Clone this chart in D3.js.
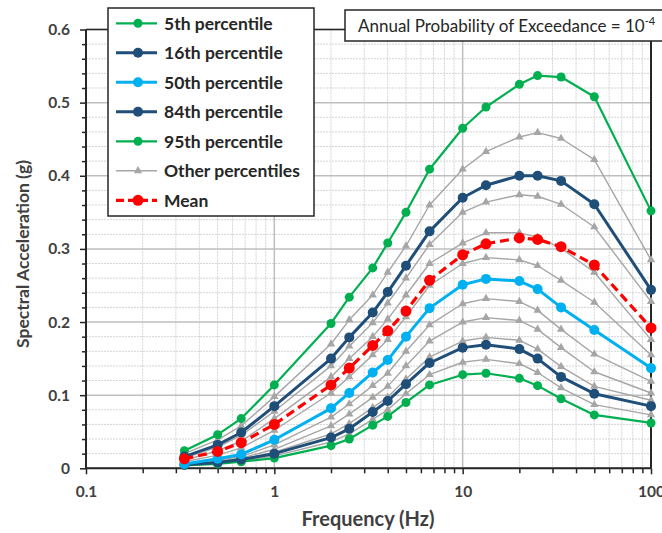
<!DOCTYPE html>
<html>
<head>
<meta charset="utf-8">
<script src="https://d3js.org/d3.v7.min.js"></script>
<style>
  body { margin: 0; background: #fff; }
  svg { display: block; font-family: Lato, "Open Sans", sans-serif; }
</style>
</head>
<body>
<div id="chart"></div>
<script>
  // frequencies (Hz) and spectral acceleration (g) per series
  var freqs = [0.333, 0.5, 0.667, 1, 2, 2.5, 3.33, 4, 5, 6.67, 10, 13.3, 20, 25, 33.3, 50, 100];

  var p95 = [0.024, 0.046, 0.068, 0.114, 0.198, 0.234, 0.274, 0.308, 0.350, 0.409, 0.465, 0.494, 0.525, 0.537, 0.535, 0.508, 0.352];
  var p90 = [0.020, 0.039, 0.058, 0.098, 0.170, 0.203, 0.237, 0.268, 0.304, 0.360, 0.409, 0.433, 0.453, 0.459, 0.451, 0.422, 0.285];
  var p84 = [0.016, 0.032, 0.049, 0.085, 0.150, 0.179, 0.213, 0.241, 0.277, 0.324, 0.370, 0.387, 0.400, 0.400, 0.393, 0.361, 0.244];
  var p80 = [0.014, 0.029, 0.045, 0.078, 0.140, 0.167, 0.199, 0.226, 0.260, 0.306, 0.350, 0.364, 0.374, 0.372, 0.361, 0.330, 0.228];
  var p70 = [0.011, 0.024, 0.037, 0.068, 0.125, 0.150, 0.180, 0.204, 0.237, 0.280, 0.308, 0.322, 0.322, 0.316, 0.301, 0.268, 0.176];
  var p60 = [0.009, 0.018, 0.028, 0.052, 0.103, 0.125, 0.155, 0.176, 0.207, 0.250, 0.280, 0.288, 0.285, 0.277, 0.257, 0.227, 0.155];
  var p50 = [0.006, 0.013, 0.019, 0.039, 0.082, 0.103, 0.131, 0.148, 0.180, 0.219, 0.251, 0.259, 0.256, 0.245, 0.220, 0.189, 0.137];
  var p40 = [0.005, 0.011, 0.016, 0.032, 0.070, 0.088, 0.113, 0.130, 0.160, 0.196, 0.225, 0.232, 0.228, 0.216, 0.190, 0.156, 0.119];
  var p30 = [0.004, 0.009, 0.014, 0.026, 0.058, 0.074, 0.097, 0.112, 0.140, 0.174, 0.200, 0.206, 0.202, 0.190, 0.165, 0.132, 0.103];
  var p20 = [0.004, 0.008, 0.012, 0.022, 0.047, 0.061, 0.083, 0.097, 0.122, 0.152, 0.174, 0.179, 0.175, 0.163, 0.139, 0.112, 0.093];
  var p16 = [0.005, 0.008, 0.012, 0.020, 0.042, 0.054, 0.077, 0.092, 0.115, 0.144, 0.165, 0.169, 0.163, 0.150, 0.125, 0.102, 0.085];
  var p10 = [0.004, 0.007, 0.010, 0.017, 0.036, 0.047, 0.067, 0.080, 0.102, 0.128, 0.145, 0.149, 0.143, 0.131, 0.110, 0.087, 0.073];
  var p5  = [0.004, 0.006, 0.009, 0.014, 0.031, 0.040, 0.059, 0.071, 0.090, 0.114, 0.128, 0.130, 0.123, 0.113, 0.095, 0.073, 0.062];
  var mean = [0.013, 0.023, 0.035, 0.060, 0.114, 0.137, 0.168, 0.188, 0.215, 0.257, 0.292, 0.307, 0.315, 0.313, 0.303, 0.278, 0.192];

  var yTicks = [0, 0.1, 0.2, 0.3, 0.4, 0.5, 0.6];
  var xTicks = [0.1, 1, 10, 100];
  var legendLabels = ["5th percentile", "16th percentile", "50th percentile", "84th percentile",
                      "95th percentile", "Other percentiles", "Mean"];

  var green = "#00B050", navy = "#1F4E79", cyan = "#00B0F0", gray = "#A6A6A6", red = "#FF0000";

  // drawing order: grays behind, colored on top, mean last
  var series = [
    {v: p90, kind: "gray"}, {v: p80, kind: "gray"}, {v: p70, kind: "gray"}, {v: p60, kind: "gray"},
    {v: p40, kind: "gray"}, {v: p30, kind: "gray"}, {v: p20, kind: "gray"}, {v: p10, kind: "gray"},
    {v: p5, kind: "green"}, {v: p95, kind: "green"},
    {v: p16, kind: "navy"}, {v: p84, kind: "navy"},
    {v: p50, kind: "cyan"},
    {v: mean, kind: "mean"}
  ];
  var styles = {
    gray:  {color: gray,  width: 1.4, r: 0,   dash: null},
    green: {color: green, width: 2.2, r: 4.5, dash: null},
    navy:  {color: navy,  width: 3,   r: 5,   dash: null},
    cyan:  {color: cyan,  width: 3,   r: 5,   dash: null},
    mean:  {color: red,   width: 3.2, r: 5.5, dash: "9,5"}
  };
  var legendKinds = ["green", "navy", "cyan", "navy", "green", "gray", "mean"];

  var W = 662, H = 533;
  var margin = {top: 29.5, right: 11, bottom: 64.7, left: 86},
      width = W - margin.left - margin.right,
      height = H - margin.top - margin.bottom;

  var svg = d3.select("#chart").append("svg")
      .attr("width", W).attr("height", H);
  var g = svg.append("g")
      .attr("transform", "translate(" + margin.left + "," + margin.top + ")");

  var x = d3.scaleLog().domain([0.1, 100]).range([0, width]);
  var y = d3.scaleLinear().domain([0, 0.6]).range([height, 0]);

  // minor positions
  var xMinor = [];
  [0.1, 1, 10].forEach(function(dec) {
    for (var k = 2; k <= 9; k++) xMinor.push(dec * k);
  });
  var yMinor = d3.range(0, 0.6001, 0.02).filter(function(v) {
    return Math.abs(v * 10 - Math.round(v * 10)) > 1e-6;
  });

  // gridlines
  g.selectAll(".hminor").data(yMinor).enter().append("line")
    .attr("x1", 0).attr("x2", width)
    .attr("y1", function(d) { return y(d); }).attr("y2", function(d) { return y(d); })
    .attr("stroke", "#d4d4d4").attr("stroke-width", 1).attr("stroke-dasharray", "2,1");
  g.selectAll(".vminor").data(xMinor).enter().append("line")
    .attr("y1", 0).attr("y2", height)
    .attr("x1", function(d) { return x(d); }).attr("x2", function(d) { return x(d); })
    .attr("stroke", "#d4d4d4").attr("stroke-width", 1).attr("stroke-dasharray", "2,1");
  g.selectAll(".hmajor").data(yTicks).enter().append("line")
    .attr("x1", 0).attr("x2", width)
    .attr("y1", function(d) { return y(d); }).attr("y2", function(d) { return y(d); })
    .attr("stroke", "#bfbfbf").attr("stroke-width", 1.5);
  g.selectAll(".vmajor").data(xTicks).enter().append("line")
    .attr("y1", 0).attr("y2", height)
    .attr("x1", function(d) { return x(d); }).attr("x2", function(d) { return x(d); })
    .attr("stroke", "#bfbfbf").attr("stroke-width", 1.5);

  // plot frame (top + right)
  g.append("line").attr("x1", 0).attr("x2", width).attr("y1", 0).attr("y2", 0)
    .attr("stroke", "#262626").attr("stroke-width", 1.5);
  g.append("line").attr("x1", width).attr("x2", width).attr("y1", 0).attr("y2", height)
    .attr("stroke", "#262626").attr("stroke-width", 2);

  // axes
  var yAxis = g.append("g")
    .call(d3.axisLeft(y).tickValues(yTicks).tickSize(6).tickPadding(10)
      .tickFormat(function(d) { return d === 0 ? "0" : d3.format(".1f")(d); }));
  var yAxisMinor = g.append("g")
    .call(d3.axisLeft(y).tickValues(yMinor).tickSize(4).tickFormat(""));
  var xAxis = g.append("g").attr("transform", "translate(0," + height + ")")
    .call(d3.axisBottom(x).tickValues(xTicks).tickSize(6).tickPadding(12)
      .tickFormat(function(d) { return String(d); }));
  var xAxisMinor = g.append("g").attr("transform", "translate(0," + height + ")")
    .call(d3.axisBottom(x).tickValues(xMinor).tickSize(5).tickFormat(""));

  [yAxis, yAxisMinor, xAxis, xAxisMinor].forEach(function(a) {
    a.select(".domain").remove();
    a.selectAll("line").attr("stroke", "#262626").attr("stroke-width", 1.5);
    a.selectAll("text").attr("font-size", 15.5).attr("font-weight", "bold")
      .attr("fill", "#404040").attr("font-family", "Lato, sans-serif");
  });
  g.append("line").attr("x1", 0).attr("x2", 0).attr("y1", 0).attr("y2", height)
    .attr("stroke", "#262626").attr("stroke-width", 2);
  g.append("line").attr("x1", 0).attr("x2", width).attr("y1", height).attr("y2", height)
    .attr("stroke", "#262626").attr("stroke-width", 2);

  // series
  var line = d3.line()
    .x(function(d) { return x(d[0]); })
    .y(function(d) { return y(d[1]); });
  var tri = d3.symbol().type(d3.symbolTriangle).size(30);

  series.forEach(function(s) {
    var st = styles[s.kind];
    var pts = freqs.map(function(f, i) { return [f, s.v[i]]; });
    g.append("path").datum(pts)
      .attr("d", line).attr("fill", "none")
      .attr("stroke", st.color).attr("stroke-width", st.width)
      .attr("stroke-dasharray", st.dash)
      .attr("stroke-linejoin", "round");
    if (s.kind === "gray") {
      g.selectAll(null).data(pts).enter().append("path")
        .attr("d", tri)
        .attr("transform", function(d) { return "translate(" + x(d[0]) + "," + y(d[1]) + ")"; })
        .attr("fill", gray);
    } else {
      g.selectAll(null).data(pts).enter().append("circle")
        .attr("cx", function(d) { return x(d[0]); })
        .attr("cy", function(d) { return y(d[1]); })
        .attr("r", st.r).attr("fill", st.color);
    }
  });

  // axis titles
  svg.append("text").attr("x", 368).attr("y", 526).attr("text-anchor", "middle")
    .attr("font-size", 20).attr("font-weight", "bold").attr("fill", "#404040")
    .text("Frequency (Hz)");
  svg.append("text").attr("transform", "translate(29,254) rotate(-90)")
    .attr("text-anchor", "middle")
    .attr("font-size", 17.5).attr("font-weight", "bold").attr("fill", "#404040")
    .text("Spectral Acceleration (g)");

  // legend
  var leg = svg.append("g").attr("transform", "translate(108,8)");
  leg.append("rect").attr("width", 206).attr("height", 208)
    .attr("fill", "#fff").attr("stroke", "#262626").attr("stroke-width", 1.5);
  legendLabels.forEach(function(lbl, i) {
    var st = styles[legendKinds[i]];
    var cy = 15.3 + i * 29.5;
    leg.append("line").attr("x1", 8).attr("x2", 49).attr("y1", cy).attr("y2", cy)
      .attr("stroke", st.color).attr("stroke-width", st.width)
      .attr("stroke-dasharray", legendKinds[i] === "mean" ? "8,4" : null);
    if (legendKinds[i] === "gray") {
      leg.append("path").attr("d", tri).attr("transform", "translate(30," + cy + ")").attr("fill", gray);
    } else {
      leg.append("circle").attr("cx", 30).attr("cy", cy).attr("r", st.r).attr("fill", st.color);
    }
    leg.append("text").attr("x", 56).attr("y", cy).attr("dy", "0.36em")
      .attr("font-size", 17.5).attr("font-weight", "bold").attr("fill", "#262626")
      .text(lbl);
  });

  // annotation box
  svg.append("rect").attr("x", 345).attr("y", 10).attr("width", 340).attr("height", 31)
    .attr("fill", "#fff").attr("stroke", "#262626").attr("stroke-width", 1.5);
  var ann = svg.append("text").attr("x", 358).attr("y", 32)
    .attr("font-size", 17).attr("fill", "#262626");
  ann.append("tspan").text("Annual Probability of Exceedance = 10");
  ann.append("tspan").attr("dy", -7).attr("font-size", 11).text("-4");
</script>
</body>
</html>
